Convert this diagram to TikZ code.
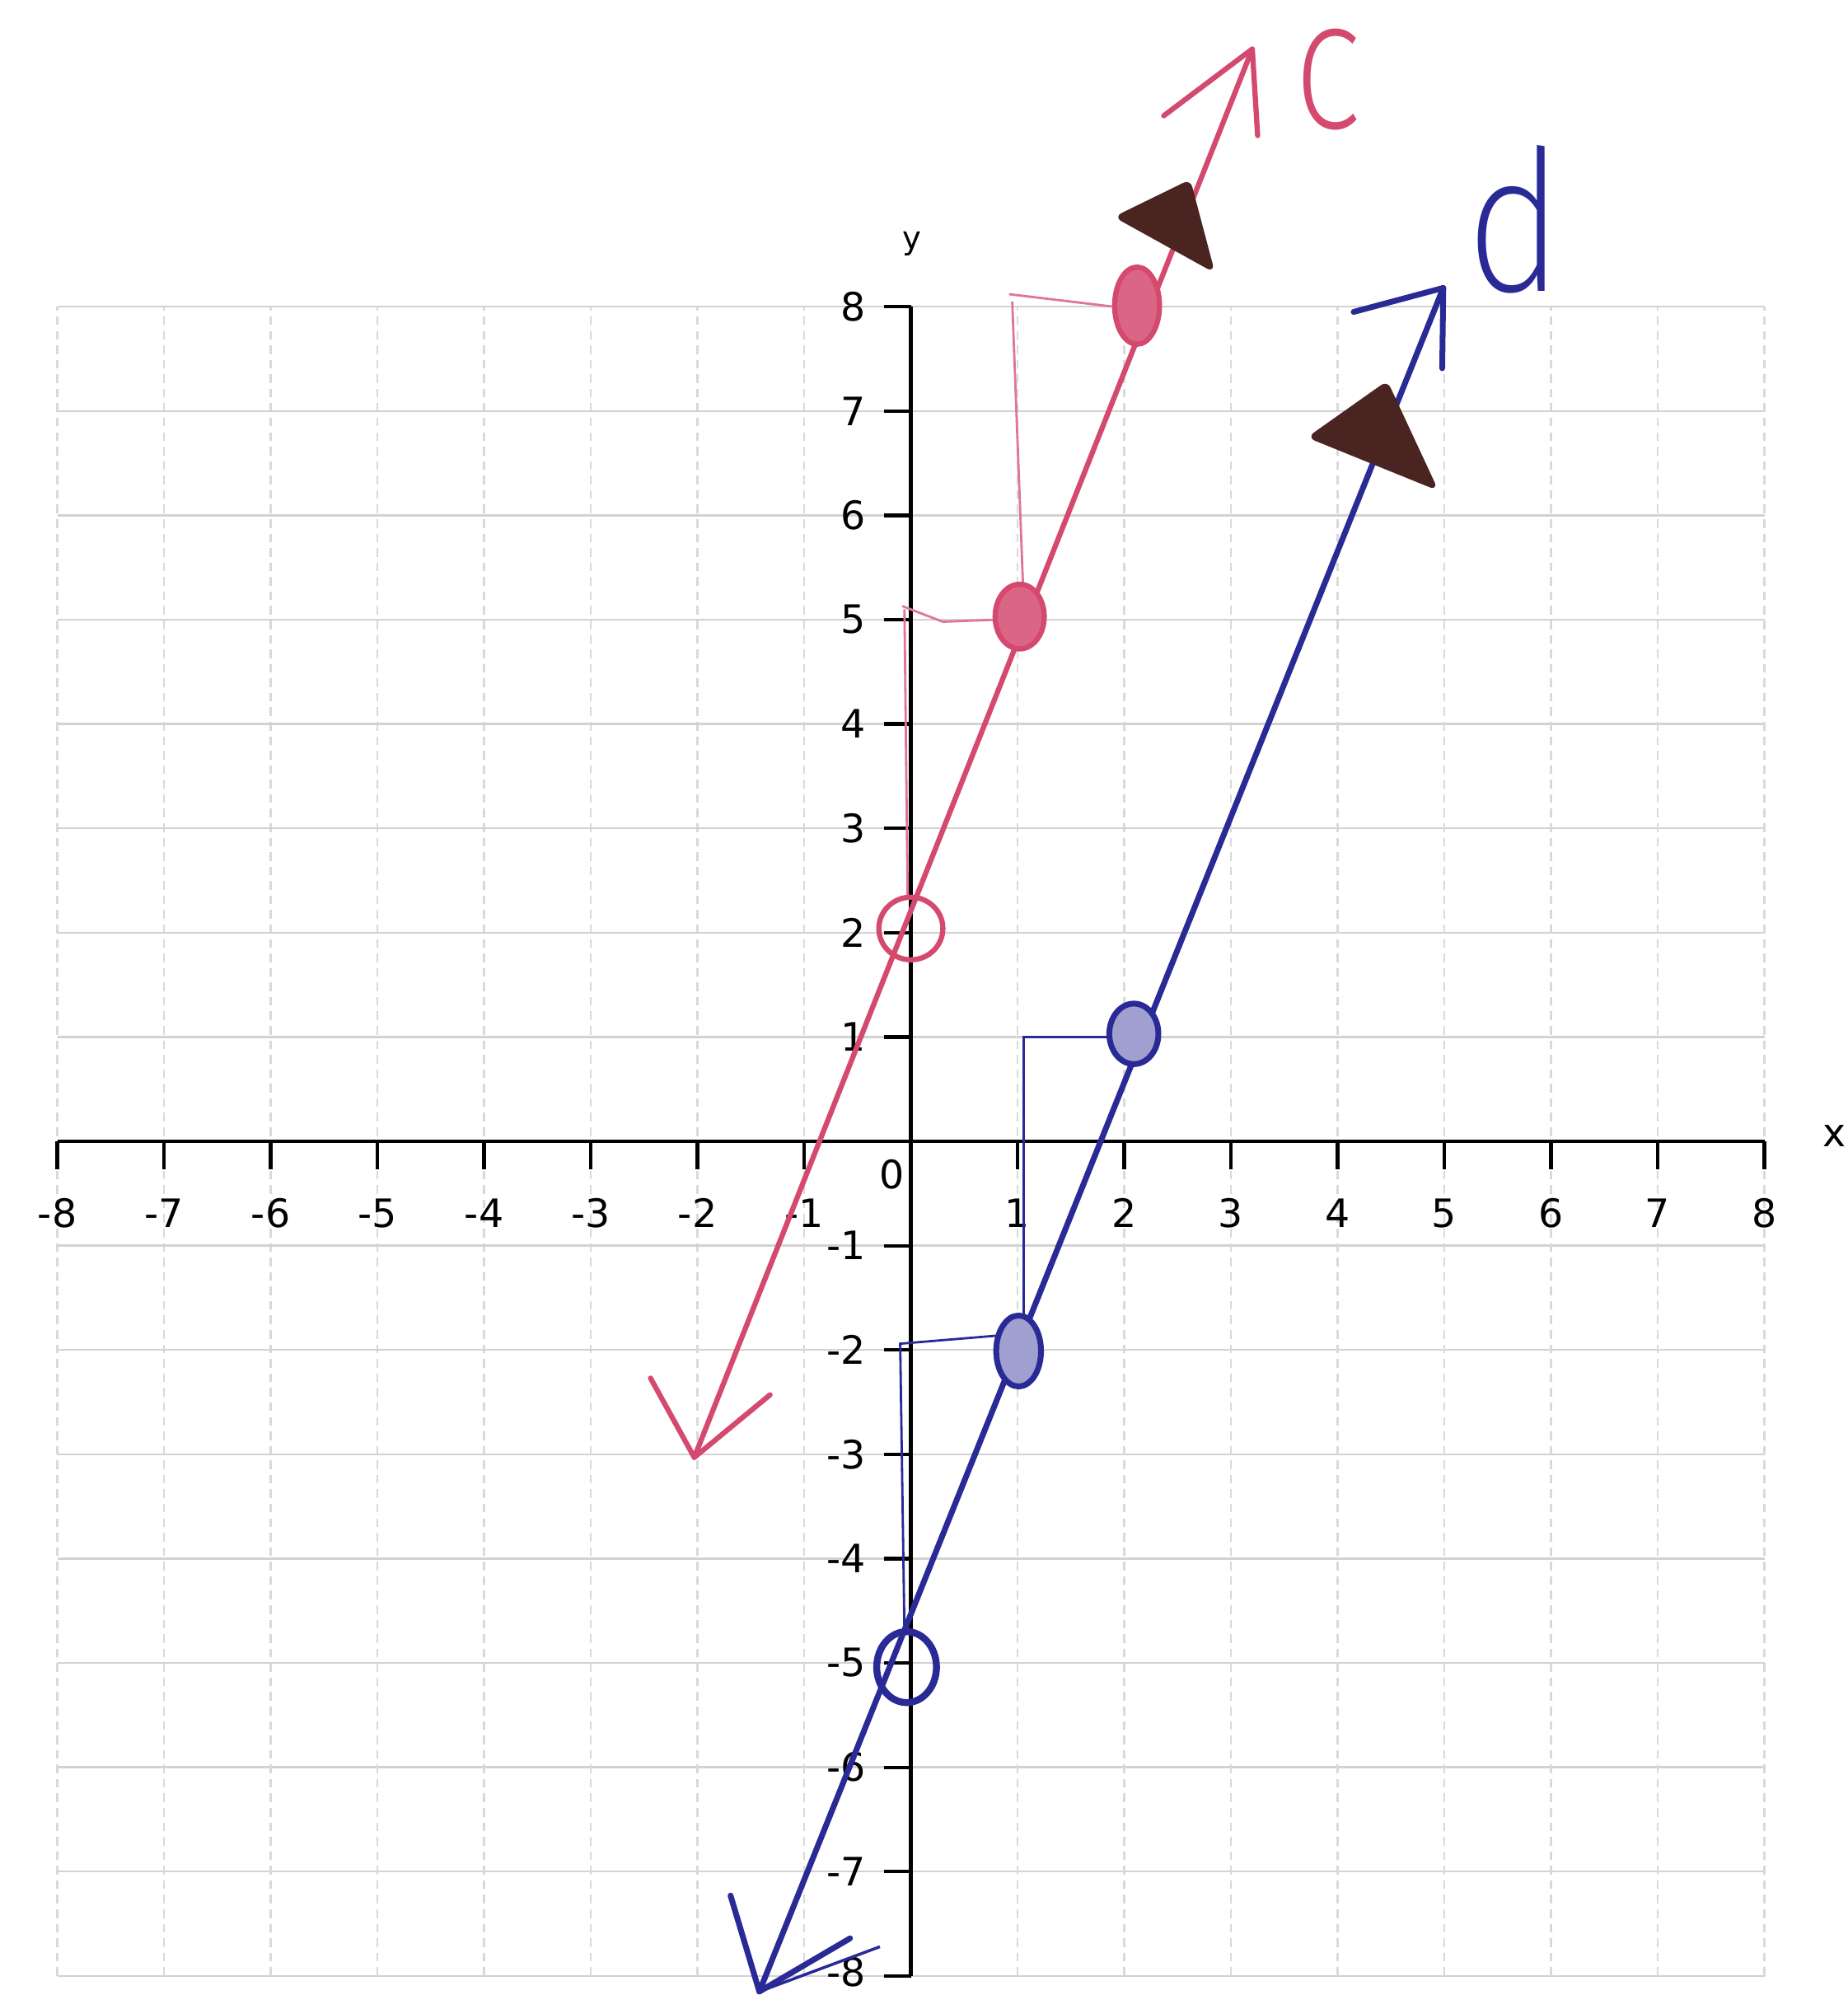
\documentclass[tikz,border=0pt]{standalone}
\usepackage{fontspec}
\usepackage{graphicx}
\newfontfamily\axisfont{DejaVu Sans}
\IfFontExistsTF{Fira Sans ExtraLight}
  {\newfontfamily\handfont{Fira Sans ExtraLight}}
  {\IfFontExistsTF{Fira Sans Light}
    {\newfontfamily\handfont{Fira Sans Light}}
    {\newfontfamily\handfont{Liberation Sans}}}
\definecolor{cred}{HTML}{D44A6E}
\definecolor{dblue}{HTML}{2A2A96}
\definecolor{tbrown}{HTML}{4A2420}

\begin{document}
\begin{tikzpicture}[
    x=1.295cm, y=1.266cm,
    gridh/.style={draw=gray!35, line width=0.7pt},
    gridv/.style={draw=gray!30, line width=0.7pt, dash pattern=on 3pt off 2pt},
    axis/.style={draw=black, line width=1.2pt},
    tickmark/.style={draw=black, line width=1.2pt},
    ticklbl/.style={font=\axisfont\fontsize{13.5}{15}\selectfont, inner sep=0pt},
    linec/.style={draw=cred, line width=1.8pt, line cap=round, line join=round},
    lined/.style={draw=dblue, line width=2pt, line cap=round, line join=round},
    guidec/.style={draw=cred!75, line width=0.8pt},
    guided/.style={draw=dblue, line width=0.8pt},
    cone/.style={fill=tbrown, draw=tbrown, line width=1pt, rounded corners=2pt},
    lbl/.style={font=\handfont\fontsize{56}{60}\selectfont, inner sep=0pt},
  ]
    \useasboundingbox (-8.537,-8.183) rectangle (8.776,10.94);

    % grid
    \foreach \i in {-8,...,8} {
      \draw[gridh] (-8,\i) -- (8,\i);
      \draw[gridv] (\i,-8) -- (\i,8);
    }

    % axes
    \draw[axis] (-8,0) -- (8,0);
    \draw[axis] (0,-8) -- (0,8);
    \foreach \i in {-8,...,8} {
      \draw[tickmark] (\i,0) -- (\i,-0.27);
      \draw[tickmark] (0,\i) -- (-0.25,\i);
    }
    \foreach \i in {-8,...,-1,1,2,...,8} {
      \node[ticklbl] (xl\i) at (\i,-0.69) {\i};
    }
    \foreach \i in {-7,...,-1,1,2,...,8} {
      \node[ticklbl, anchor=east] (yl\i) at (-0.42,\i) {\i};
    }
    \node[ticklbl, anchor=east] (yl-8) at (-0.42,-7.96) {-8};
    \node[ticklbl] (zero) at (-0.18,-0.32) {0};
    \node[ticklbl, font=\axisfont\fontsize{11}{12}\selectfont] (ylab) at (0.01,8.6) {y};
    \node[ticklbl, anchor=east] (xlab) at (8.77,0.05) {x};

    % line c
    \coordinate (clo) at (-2.03,-3.03);
    \coordinate (chi) at (3.20,10.47);
    \draw[guidec] (1.9,8.0) -- (0.92,8.12);
    \draw[guidec] (0.95,8.05) -- (1.05,5.36);
    \draw[guidec] (0.8,5.0) -- (0.3,4.98) -- (-0.08,5.13);
    \draw[guidec] (-0.06,5.1) -- (-0.03,2.35);
    \draw[linec] (clo) -- (chi);
    \draw[linec] (-2.44,-2.27) -- (clo) -- (-1.32,-2.43);
    \draw[linec] (2.37,9.83) -- (chi) -- (3.25,9.64);
    \draw[cone] (2.61,9.20) -- (1.93,8.86) -- (2.83,8.35) -- cycle;
    \draw[cred, line width=1.8pt] (0,2.04) circle[radius=0.3];
    \draw[cred, line width=1.8pt, fill=cred!85] (1.02,5.03) ellipse[x radius=0.23, y radius=0.31];
    \draw[cred, line width=1.8pt, fill=cred!85] (2.12,8.01) ellipse[x radius=0.21, y radius=0.37];
    \node[lbl, text=cred] (c) at (3.91,10.18) {\scalebox{0.9}[1.15]{c}};

    % line d
    \coordinate (dlo) at (-1.42,-8.15);
    \coordinate (dhi) at (4.99,8.18);
    \draw[guided] (1.85,1.0) -- (1.06,1.0) -- (1.06,-1.70);
    \draw[guided] (0.84,-1.86) -- (-0.10,-1.94) -- (-0.06,-4.7);
    \draw[lined] (dlo) -- (dhi);
    \draw[lined] (-1.69,-7.23) -- (dlo) -- (-0.57,-7.64);
    \draw[dblue, line width=1pt] (dlo) -- (-0.29,-7.72);
    \draw[lined] (4.15,7.95) -- (dhi) -- (4.98,7.41);
    \draw[cone] (4.46,7.27) -- (3.74,6.75) -- (4.92,6.26) -- cycle;
    \draw[dblue, line width=2pt, fill=dblue!45] (2.09,1.03) ellipse[x radius=0.23, y radius=0.29];
    \draw[dblue, line width=2pt, fill=dblue!45] (1.01,-2.01) ellipse[x radius=0.21, y radius=0.34];
    \draw[dblue, line width=2.4pt] (-0.04,-5.04) ellipse[x radius=0.28, y radius=0.34];
    \node[lbl, text=dblue, font=\handfont\fontsize{68}{72}\selectfont] (d) at (5.66,8.84) {\scalebox{0.85}[1]{d}};
  \end{tikzpicture}
\end{document}
